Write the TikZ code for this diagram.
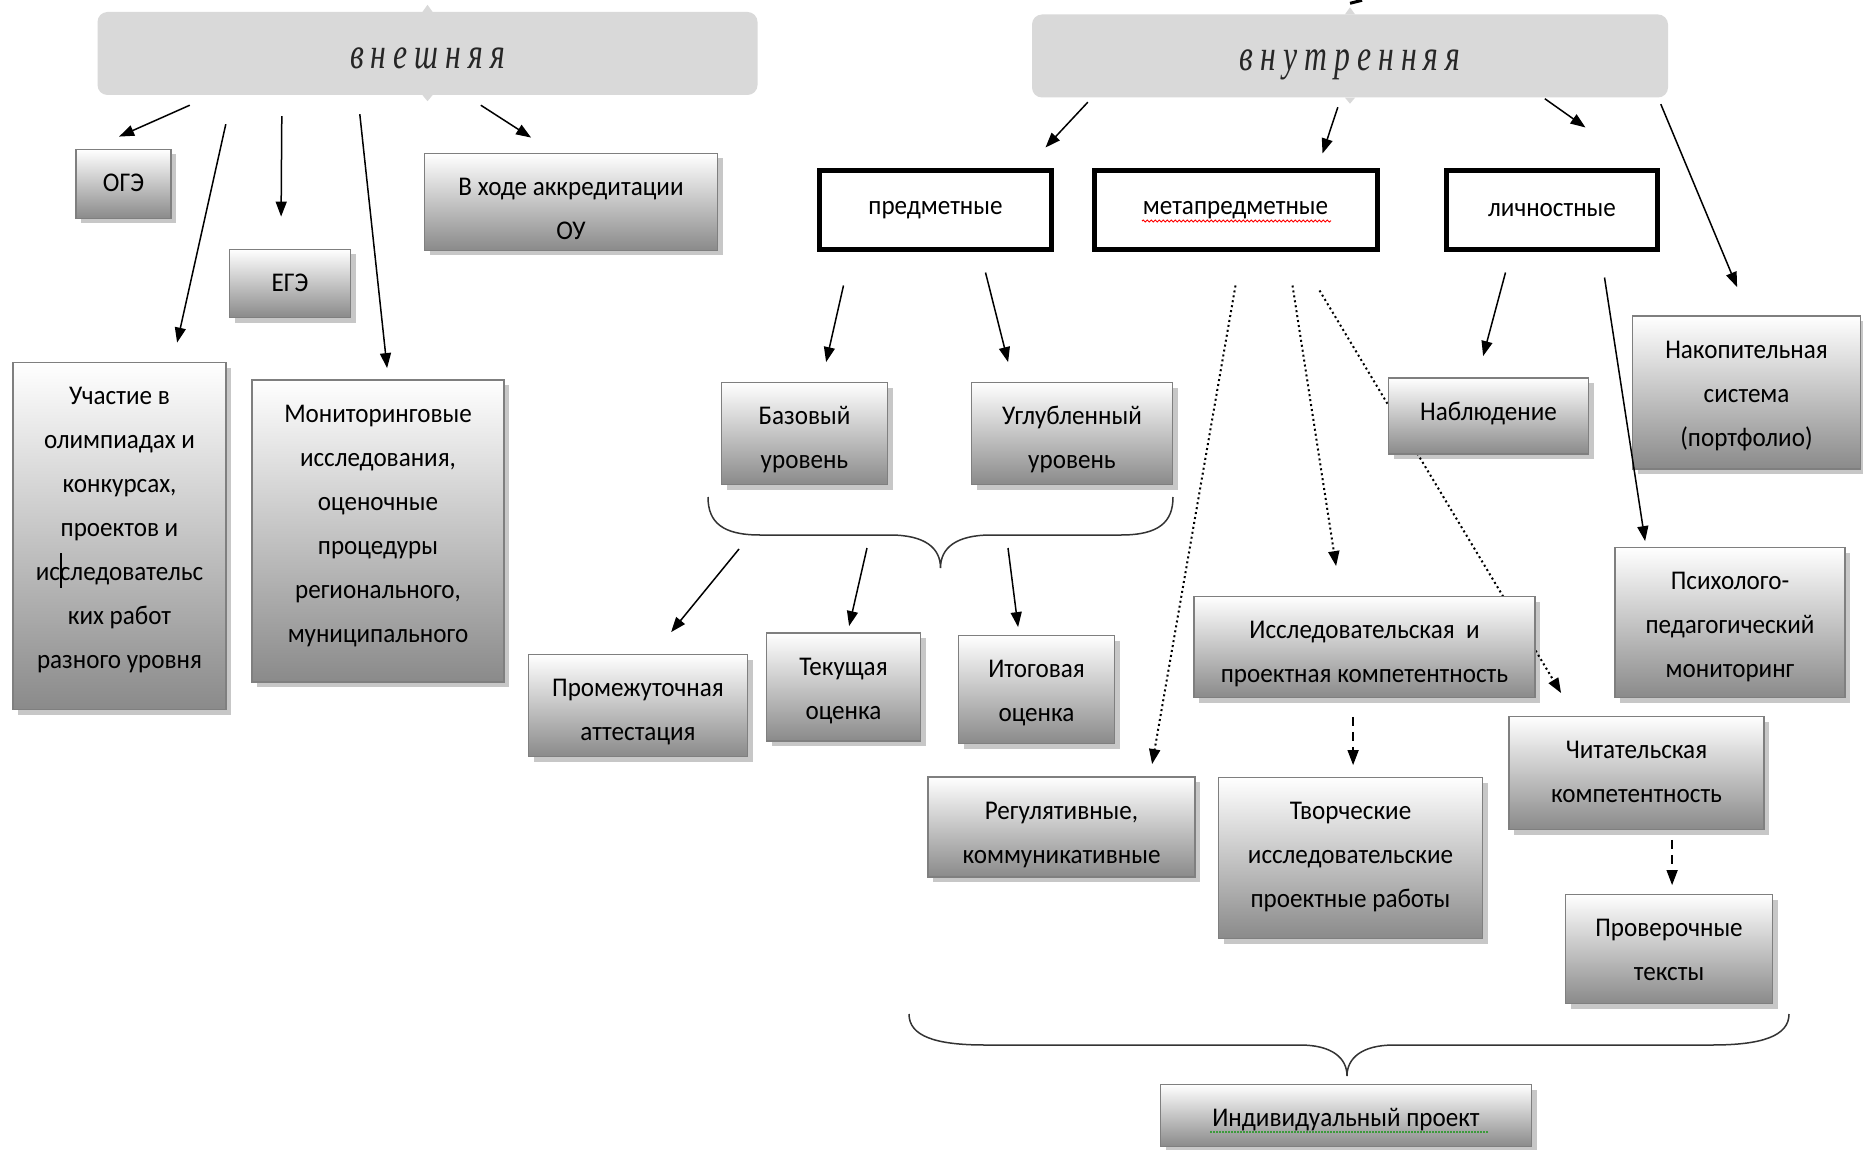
\documentclass[tikz,border=0pt]{standalone}
\usepackage{fontspec}
\setmainfont{Carlito}[FakeStretch=0.93]
\newfontfamily\headfont[FakeStretch=0.72,LetterSpace=16]{Liberation Serif}
\usetikzlibrary{arrows.meta,shadows,calc,decorations.pathmorphing}
\pgfdeclarelayer{background}
\pgfsetlayers{background,main}
\definecolor{hdr}{HTML}{D9D9D9}
\definecolor{bord}{HTML}{7F7F7F}
\definecolor{shd}{HTML}{8A8A8A}
\definecolor{spellgreen}{HTML}{3C9A3C}
% box text: width, height, first baseline below top, text (top anchored)
\newcommand{\bxt}[4]{\begin{minipage}[c][#2pt][t]{#1pt}\centering\rule{0pt}{#3pt}#4\end{minipage}}
\newcommand{\bt}[3]{\bxt{#1}{#2}{42}{#3}}
\begin{document}
\begin{tikzpicture}[x=1pt,y=-1pt,
  gbox/.style={draw=bord, line width=1.8pt, top color=white, bottom color=shd,
    inner sep=0pt, font=\fontsize{27}{44}\selectfont,
    drop shadow={shadow xshift=5pt, shadow yshift=-5pt, fill=black, opacity=0.22}},
  tbox/.style={draw=black, line width=5pt, fill=white, inner sep=0pt,
    font=\fontsize{27}{44}\selectfont},
  hbox/.style={fill=hdr, rounded corners=10pt, inner sep=0pt,
    font=\headfont\itshape\fontsize{44}{50}\selectfont, text=black!85},
  notch/.style={fill=hdr},
  arr/.style={line width=1.5pt, -{Triangle[length=15pt,width=11pt]}},
  dotarr/.style={arr, line width=2pt, dash pattern=on 2pt off 3pt},
  dasharr/.style={arr, dash pattern=on 9pt off 6pt},
  bracestyle/.style={line width=1.5pt, draw=black!80}
]
\useasboundingbox (0,0) rectangle (1863,1150);
\begin{pgfonlayer}{background}
\fill[white] (0,0) rectangle (1863,1150);
\end{pgfonlayer}

% headers
\node[hbox] (ext) at (427.5,53.5) {\bxt{660}{83}{57}{внешняя}};
\node[hbox] (int) at (1350,56) {\bxt{636}{83}{56}{внутренняя}};
\fill[notch] ($(ext.north)+(-5,0)$) -- ($(ext.north)+(0,-7)$) -- ($(ext.north)+(5,0)$) -- cycle;
\fill[notch] ($(ext.south)+(-5,0)$) -- ($(ext.south)+(0,6)$) -- ($(ext.south)+(5,0)$) -- cycle;
\fill[notch] ($(int.north)+(-5,0)$) -- ($(int.north)+(0,-7)$) -- ($(int.north)+(5,0)$) -- cycle;
\fill[notch] ($(int.south)+(-5,0)$) -- ($(int.south)+(0,6)$) -- ($(int.south)+(5,0)$) -- cycle;
\draw[line width=3pt] ($(int.north)+(0,-11)$) -- ($(int.north)+(12,-14)$);

% left boxes
\node[gbox] (oge) at (123.5,184) {\bt{95}{69}{ОГЭ}};
\node[gbox] (ege) at (290,283.5) {\bt{121}{68}{ЕГЭ}};
\node[gbox] (akk) at (571,202) {\bt{293}{97}{В ходе аккредитации\\ОУ}};
\node[gbox] (uch) at (119.5,536) {\bt{213}{347}{Участие в\\олимпиадах и\\конкурсах,\\проектов и\\исследовательс\\ких работ\\разного уровня}};
\node[gbox] (mon) at (378,531) {\bt{252}{302}{Мониторинговые\\исследования,\\оценочные\\процедуры\\регионального,\\муниципального}};

% right top
\node[tbox, minimum width=232pt, minimum height=79pt] (pred) at (935.5,210.5) {предметные};
\node[tbox, minimum width=283pt, minimum height=79pt] (meta) at (1235.5,210.5) {метапредметные};
\node[tbox, minimum width=211pt, minimum height=79pt] (lich) at (1552,210.5) {личностные};

% right boxes
\node[gbox] (baz) at (804.5,433.5) {\bt{166}{102}{Базовый\\уровень}};
\node[gbox] (ugl) at (1072,433.5) {\bt{201}{102}{Углубленный\\уровень}};
\node[gbox] (prom) at (638,705.5) {\bt{219}{102}{Промежуточная\\аттестация}};
\node[gbox] (tek) at (843.5,687) {\bt{154}{108}{Текущая\\оценка}};
\node[gbox] (itog) at (1036.5,689.5) {\bt{156}{108}{Итоговая\\оценка}};
\node[gbox] (nab) at (1488.5,416) {\bt{200}{76}{Наблюдение}};
\node[gbox] (nak) at (1746.5,392.5) {\bt{228}{153}{Накопительная\\система\\(портфолио)}};
\node[gbox] (issl) at (1364.5,647) {\bt{341}{101}{Исследовательская \ и\\проектная компетентность}};
\node[gbox] (psy) at (1730,622.5) {\bt{230}{150}{Психолого-\\педагогический\\мониторинг}};
\node[gbox] (reg) at (1061.5,827) {\bt{267}{100}{Регулятивные,\\коммуникативные}};
\node[gbox] (tvor) at (1350.5,858) {\bt{264}{161}{Творческие\\исследовательские\\проектные работы}};
\node[gbox] (chit) at (1636.5,773) {\bt{255}{113}{Читательская\\компетентность}};
\node[gbox] (prov) at (1669,949) {\bt{207}{109}{Проверочные\\тексты}};
\node[gbox] (ind) at (1346,1115.5) {\bt{371}{62}{Индивидуальный проект}};

% arrows from внешняя
\draw[arr] ($(ext.south west)+(92.5,10)$) -- ($(oge.north west)+(44,-12)$);
\draw[arr] ($(ext.south west)+(128.5,29)$) -- ($(uch.north west)+(165,-19)$);
\draw[arr] ($(ext.south west)+(184.5,21)$) -- ($(ege.north west)+(52.5,-32)$);
\draw[arr] ($(ext.south west)+(262.5,19)$) -- ($(mon.north west)+(136,-11)$);
\draw[arr] ($(ext.south west)+(383.5,10)$) -- ($(akk.north west)+(107.5,-15)$);

% arrows from внутренняя
\draw[arr] ($(int.south west)+(56,4.5)$) -- ($(pred.north west)+(228.5,-21)$);
\draw[arr] ($(int.south west)+(306,9.5)$) -- ($(meta.north west)+(231,-15)$);
\draw[arr] ($(int.south west)+(513,1)$) -- ($(lich.north west)+(141.5,-41)$);
\draw[arr] ($(int.south west)+(629,6.5)$) -- ($(nak.north west)+(105.5,-28)$);

% предметные
\draw[arr] ($(pred.south west)+(26.5,33)$) -- ($(baz.north west)+(105.5,-19.5)$);
\draw[arr] ($(pred.south west)+(168.5,20)$) -- ($(ugl.north west)+(37.5,-19.5)$);

% brace 1
\coordinate (br1) at (940.5,568);
\draw[bracestyle] (708,497) .. controls (708,522) and (722,535) .. (760,535) -- (890,535)
  .. controls (925,535) and (940.5,548) .. (br1)
  .. controls (940.5,548) and (956,535) .. (991,535) -- (1121,535)
  .. controls (1159,535) and (1173,522) .. (1173,497);
\draw[arr] ($(br1)+(-201.5,-19)$) -- ($(prom.north west)+(143.5,-21.5)$);
\draw[arr] ($(br1)+(-73.5,-20)$) -- ($(tek.north west)+(83.5,-6)$);
\draw[arr] ($(br1)+(67.5,-20)$) -- ($(itog.north west)+(60.5,-7.5)$);

% личностные
\draw[arr] ($(lich.south west)+(61.5,20)$) -- ($(nab.north west)+(95.5,-21)$);
\draw[arr] ($(lich.south west)+(160.5,25)$) -- ($(psy.north west)+(31,-5.5)$);

% метапредметные (dotted)
\draw[dotarr] ($(meta.south west)+(144,33)$) -- ($(reg.north west)+(225,-12)$);
\draw[dotarr] ($(meta.south west)+(201,33)$) -- ($(issl.north west)+(143,-29.5)$);
\begin{pgfonlayer}{background}
\draw[dotarr] ($(meta.south west)+(228,38)$) -- ($(chit.north west)+(53,-22.5)$);
\end{pgfonlayer}

% dashed
\draw[dasharr] ($(issl.south west)+(160,18.5)$) -- ($(tvor.north west)+(135.5,-11.5)$);
\draw[dasharr] ($(chit.south west)+(164,9.5)$) -- ($(prov.north west)+(107.5,-8.5)$);

% brace 2
\draw[bracestyle] (909,1014) .. controls (909,1036) and (935,1045) .. (985,1045) -- (1300,1045)
  .. controls (1332,1045) and (1347,1058) .. (1347,1076)
  .. controls (1347,1058) and (1362,1045) .. (1394,1045) -- (1712,1045)
  .. controls (1762,1045) and (1789,1036) .. (1789,1014);

% spell-check marks and cursor
\draw[red, line width=1pt, decorate, decoration={snake, amplitude=1pt, segment length=4pt}] (1142,221) -- (1331,221);
\draw[spellgreen, line width=1.2pt, dash pattern=on 1.5pt off 1.5pt] (1210,1132) -- (1488,1132);
\draw[line width=1.5pt] (61,553) -- (61,588);
\end{tikzpicture}
\end{document}
